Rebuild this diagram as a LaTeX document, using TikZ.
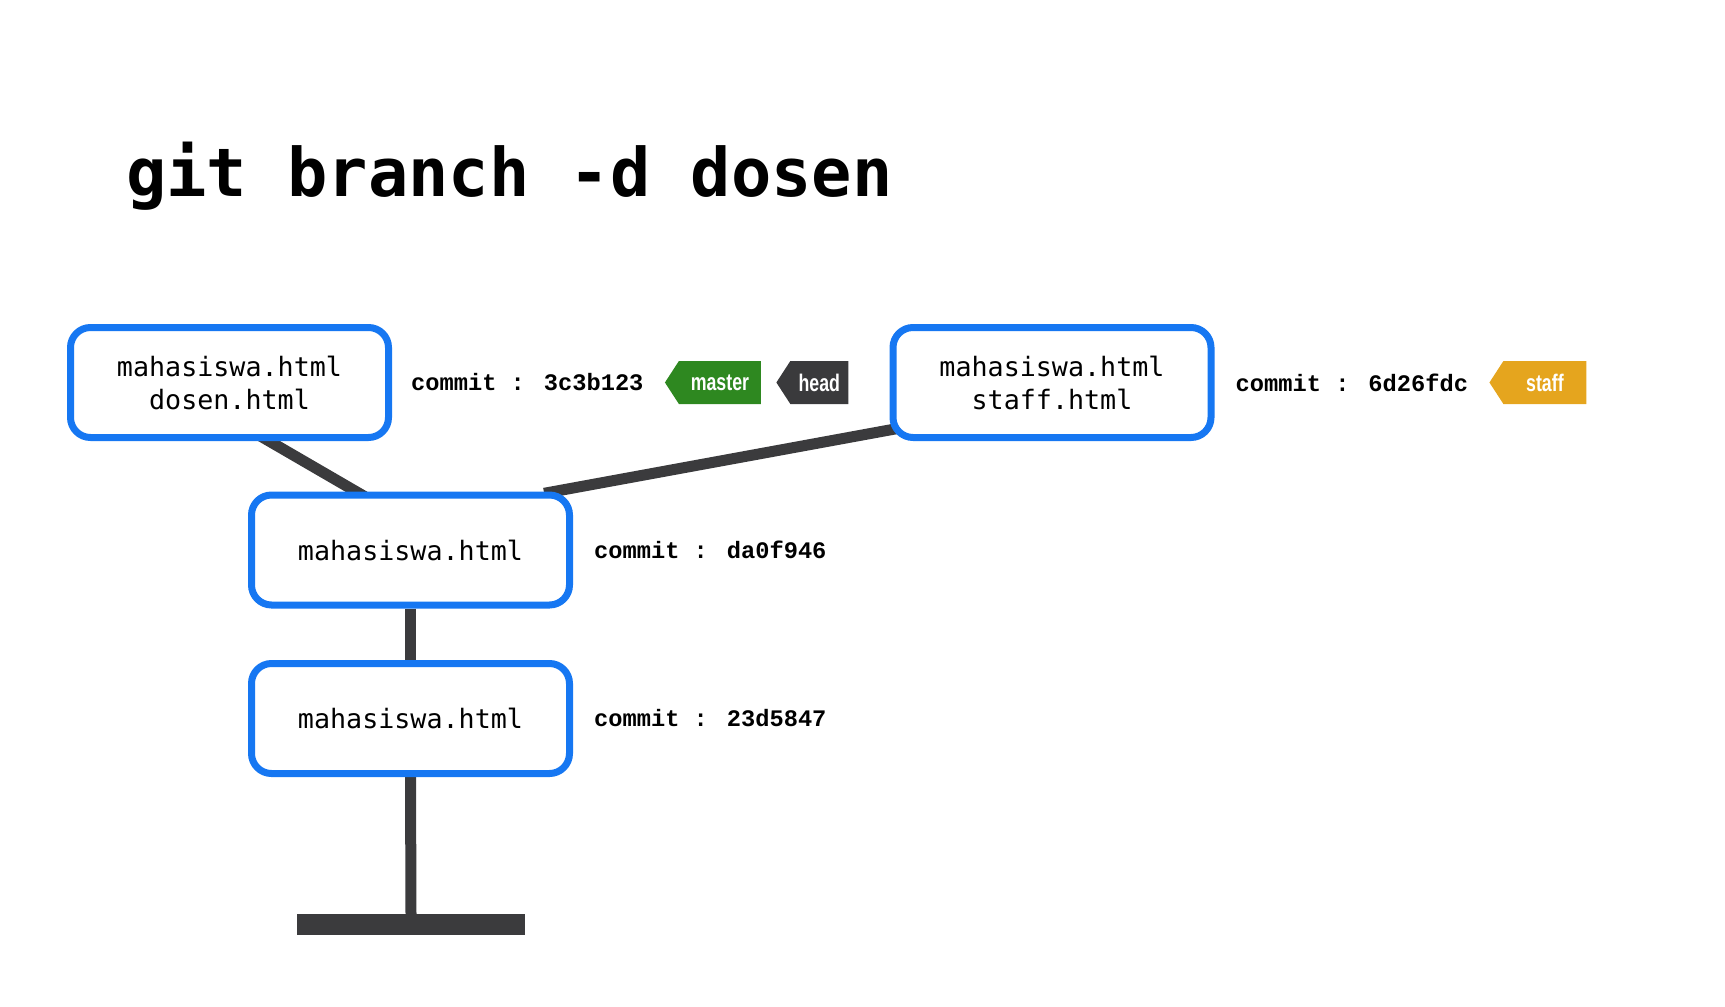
\documentclass[tikz,border=0pt]{standalone}
\usepackage{fontspec}
\usetikzlibrary{positioning,calc,shapes.symbols,backgrounds}
\newfontfamily\monofont{DejaVu Sans Mono}
\newfontfamily\commitfont{Liberation Mono}
\newfontfamily\tagfont[FakeStretch=0.74]{Liberation Sans}
\definecolor{boxblue}{RGB}{22,119,242}
\definecolor{linegray}{RGB}{59,59,61}
\definecolor{mastergreen}{RGB}{46,136,32}
\definecolor{headgray}{RGB}{58,58,60}
\definecolor{staffyellow}{RGB}{229,165,30}
\tikzset{
  filebox/.style={draw=boxblue, line width=7pt, rounded corners=20pt, fill=white,
    minimum width=318pt, minimum height=110pt, align=center,
    font=\monofont\fontsize{26.7}{33}\selectfont},
  commitlabel/.style={inner sep=0pt, font=\commitfont\bfseries\fontsize{23.7}{23.7}\selectfont},
  branchtag/.style={signal, signal to=west, signal pointer angle=114, minimum height=43pt,
    inner sep=0pt, text=white, font=\tagfont\bfseries\fontsize{24}{24}\selectfont},
  history/.style={draw=linegray, line width=11pt},
}
\begin{document}
\begin{tikzpicture}[x=1pt,y=-1pt]
\useasboundingbox (0,0) rectangle (1725,1007);
\node[anchor=base west, inner sep=0pt, font=\monofont\bfseries\fontsize{67}{67}\selectfont] (title) at (126,196) {git branch -d dosen};

% commits
\node[filebox] (boxA) at (229.5,382.5) {mahasiswa.html\\dosen.html};
\node[filebox] (boxB) at (1052,382.5) {mahasiswa.html\\staff.html};
\node[filebox] (boxC) at (410.5,550) {mahasiswa.html};
\node[filebox] (boxD) at (410.5,718.5) {mahasiswa.html};
\node[fill=linegray, inner sep=0pt, minimum width=228pt, minimum height=21pt] (base) at (411,924.5) {};

% labels and branches
\node[commitlabel, right=19pt of boxA] (labA) {commit : 3c3b123};
\node[branchtag, fill=mastergreen, minimum width=96pt, right=21pt of labA] (master) {master};
\node[branchtag, fill=headgray, minimum width=72pt, right=15pt of master] (head) {head};
\node[commitlabel, right=21pt of boxB] (labB) {commit : 6d26fdc};
\node[branchtag, fill=staffyellow, minimum width=97pt, right=21pt of labB] (staff) {staff};
\node[commitlabel, right=21pt of boxC] (labC) {commit : da0f946};
\node[commitlabel, right=21pt of boxD] (labD) {commit : 23d5847};

\begin{scope}[on background layer]
\draw[history, shorten <=-10pt, shorten >=-10pt] ($(boxA.south)+(39.5,0)$) -- ($(boxC.north)+(-54.5,0)$);
\draw[history, shorten <=-10pt, shorten >=-10pt] ($(boxB.south west)+(0,-11)$) -- ($(boxC.north east)+(-19,0)$);
\draw[history] (boxC.south) -- (boxD.north);
\draw[history] (boxD.south) -- (base.north);
\end{scope}
\end{tikzpicture}
\end{document}
